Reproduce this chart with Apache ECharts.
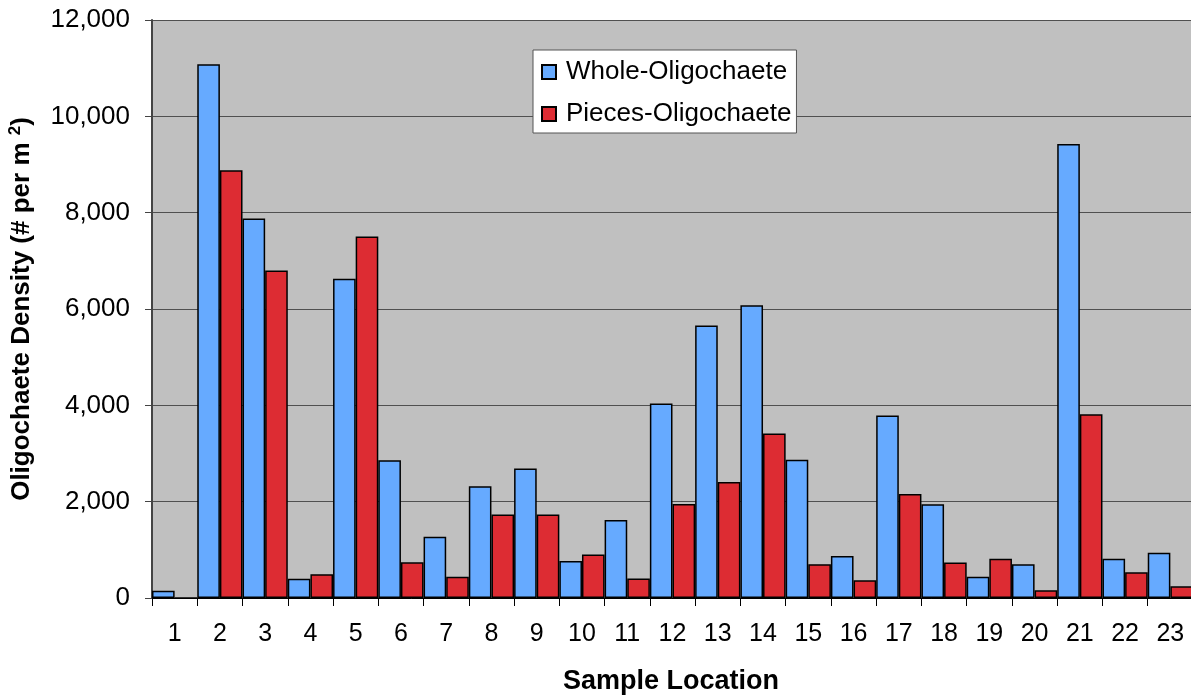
<!DOCTYPE html>
<html>
<head>
<meta charset="utf-8">
<script src="https://cdn.jsdelivr.net/npm/echarts@6/dist/echarts.min.js"></script>
<style>
  html, body { margin: 0; padding: 0; background: #fff; }
  #chart { width: 1191px; height: 698px; }
</style>
</head>
<body>
<div id="chart"></div>
<script>
const categories = ['1','2','3','4','5','6','7','8','9','10','11','12','13','14','15','16','17','18','19','20','21','22','23'];
const wholeOligochaete = [150, 11080, 7880, 400, 6630, 2860, 1270, 2320, 2690, 770, 1620, 4040, 5660, 6080, 2870, 870, 3790, 1945, 443, 700, 9425, 817, 942];
const piecesOligochaete = [0, 8880, 6800, 495, 7505, 740, 443, 1735, 1735, 905, 404, 1950, 2408, 3417, 703, 369, 2157, 736, 817, 159, 3816, 533, 242];
const yTicks = [0, 2000, 4000, 6000, 8000, 10000, 12000];
const xTitle = 'Sample Location';
const yTitle = '{t|Oligochaete Density (# per m }{s|2}{t|)}';

const FONT = '"Liberation Sans", Arial, Helvetica, sans-serif';
const chart = echarts.init(document.getElementById('chart'), null, { renderer: 'canvas' });

chart.setOption({
  animation: false,
  backgroundColor: '#ffffff',
  textStyle: { fontFamily: FONT },
  grid: {
    left: 152, right: -2, top: 20, bottom: 100,
    outerBoundsMode: 'none',
    containLabel: false,
    show: true, backgroundColor: '#C0C0C0', borderWidth: 0
  },
  legend: {
    orient: 'vertical',
    left: 533, top: 50,
    padding: [9, 5, 6, 8],
    itemGap: 16,
    itemWidth: 14, itemHeight: 14,
    icon: 'rect',
    backgroundColor: '#ffffff',
    borderColor: '#555555', borderWidth: 1,
    textStyle: { fontSize: 26, color: '#000', fontFamily: FONT, padding: [0, 0, 0, 5] },
    data: ['Whole-Oligochaete', 'Pieces-Oligochaete']
  },
  graphic: [
    {
      type: 'text',
      x: 671, y: 682,
      style: {
        text: xTitle,
        font: 'bold 27px ' + FONT,
        fill: '#000',
        align: 'center', verticalAlign: 'middle'
      }
    },
    {
      type: 'text',
      x: 22, y: 309,
      rotation: Math.PI / 2,
      style: {
        text: yTitle,
        fill: '#000',
        align: 'center', verticalAlign: 'middle',
        rich: {
          t: { fontSize: 26, fontWeight: 'bold', fill: '#000', fontFamily: FONT },
          s: { fontSize: 17, fontWeight: 'bold', fill: '#000', fontFamily: FONT, padding: [0, 0, 14, 0] }
        }
      }
    }
  ],
  xAxis: {
    type: 'category',
    data: categories,
    axisLine: { show: true, lineStyle: { color: '#000', width: 1 } },
    axisTick: { show: true, alignWithLabel: false, length: 8, lineStyle: { color: '#000' } },
    axisLabel: { fontSize: 25, color: '#000', margin: 24, fontFamily: FONT },
    splitLine: { show: false }
  },
  yAxis: {
    type: 'value',
    min: 0, max: 12000, interval: 2000,
    axisLine: { show: true, lineStyle: { color: '#444', width: 2 } },
    axisTick: { show: true, length: 7, lineStyle: { color: '#444' } },
    axisLabel: {
      fontSize: 26, color: '#000', margin: 22, fontFamily: FONT,
      formatter: v => yTicks.includes(v) ? v.toLocaleString('en-US') : ''
    },
    splitLine: { show: true, lineStyle: { color: '#505050', width: 1 } }
  },
  series: [
    {
      name: 'Whole-Oligochaete',
      type: 'bar',
      data: wholeOligochaete,
      barGap: '0%',
      barCategoryGap: '0%',
      itemStyle: { color: '#66AAFF', borderColor: '#000', borderWidth: 1.5 }
    },
    {
      name: 'Pieces-Oligochaete',
      type: 'bar',
      data: piecesOligochaete,
      barGap: '0%',
      barCategoryGap: '0%',
      itemStyle: { color: '#DD2C33', borderColor: '#000', borderWidth: 1.5 }
    }
  ]
});
</script>
</body>
</html>
